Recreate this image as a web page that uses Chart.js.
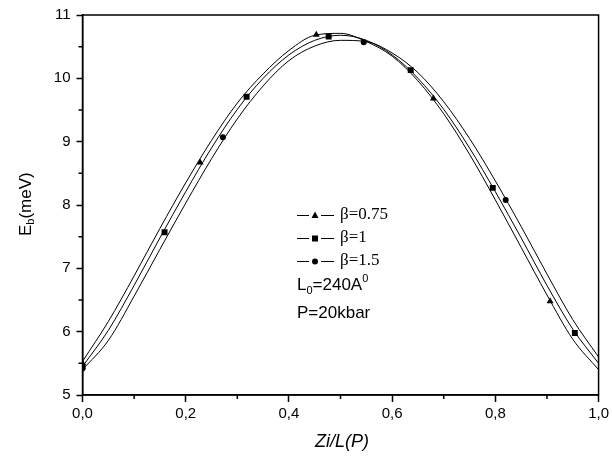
<!DOCTYPE html>
<html lang="es">
<head>
<meta charset="UTF-8">
<title>Eb vs Zi/L(P)</title>
<script src="https://cdn.jsdelivr.net/npm/chart.js"></script>
<style>
    body { margin: 0; background: #ffffff; }
    canvas { display: block; }
</style>
</head>
<body>
<canvas id="grafico" width="612" height="458"></canvas>
<script>
// posiciones Zi/L de las curvas
const zi = [0, 0.05, 0.10, 0.15, 0.20, 0.25, 0.30, 0.35, 0.40, 0.45, 0.50,
            0.55, 0.60, 0.65, 0.70, 0.75, 0.80, 0.85, 0.90, 0.95, 1.00];
// curvas Eb (meV)
const eb075 = [5.53, 6.16, 6.88, 7.63, 8.35, 9.02, 9.61, 10.07, 10.44, 10.68, 10.71,
               10.58, 10.35, 9.96, 9.44, 8.80, 8.08, 7.33, 6.58, 5.88, 5.40];
const eb1   = [5.45, 6.02, 6.73, 7.48, 8.21, 8.90, 9.51, 10.00, 10.37, 10.60, 10.68,
               10.60, 10.37, 10.00, 9.51, 8.90, 8.21, 7.48, 6.73, 6.04, 5.50];
const eb15  = [5.40, 5.86, 6.56, 7.30, 8.03, 8.73, 9.36, 9.88, 10.28, 10.51, 10.60,
               10.58, 10.40, 10.09, 9.63, 9.05, 8.38, 7.66, 6.91, 6.19, 5.60];

// puntos (marcadores)
const triX = [0, 0.228, 0.453, 0.680, 0.906];
const triY = [5.50, 8.67, 10.69, 9.68, 6.48];
const sqX  = [0, 0.159, 0.318, 0.477, 0.636, 0.795, 0.954];
const sqY  = [5.45, 7.57, 9.71, 10.66, 10.13, 8.27, 5.98];
const cirX = [0, 0.272, 0.545, 0.820];
const cirY = [5.42, 9.07, 10.57, 8.08];

const nombres = ['β=0.75', 'β=1', 'β=1.5'];
const xTicks = ['0,0', '0,2', '0,4', '0,6', '0,8', '1,0'];
const yTicks = ['5', '6', '7', '8', '9', '10', '11'];
const xMinor = [0.1, 0.3, 0.5, 0.7, 0.9];
const yMinor = [5.5, 6.5, 7.5, 8.5, 9.5, 10.5];

const pares = (xs, ys) => xs.map((x, i) => ({ x: x, y: ys[i] }));

function curva(ys) {
    return {
        data: pares(zi, ys),
        borderColor: '#000',
        borderWidth: 1,
        pointRadius: 0,
        cubicInterpolationMode: 'monotone',
        fill: false
    };
}

function puntos(xs, ys, estilo, r) {
    return {
        data: pares(xs, ys),
        showLine: false,
        pointStyle: estilo,
        pointRadius: r,
        backgroundColor: '#000',
        borderColor: '#000',
        borderWidth: 0
    };
}

function marca(ctx, estilo, x, y) {
    ctx.beginPath();
    if (estilo === 'triangle') {
        ctx.moveTo(x, y - 4);
        ctx.lineTo(x + 3.5, y + 2.5);
        ctx.lineTo(x - 3.5, y + 2.5);
        ctx.closePath();
    } else if (estilo === 'rect') {
        ctx.rect(x - 3, y - 3, 6, 6);
    } else {
        ctx.arc(x, y, 3, 0, Math.PI * 2);
    }
    ctx.fill();
}

const decorado = {
    id: 'decorado',
    afterDraw(chart) {
        const ctx = chart.ctx;
        const a = chart.chartArea;
        const sx = chart.scales.x, sy = chart.scales.y;
        ctx.save();
        ctx.strokeStyle = '#000';
        ctx.fillStyle = '#000';
        ctx.lineWidth = 1.5;
        ctx.strokeRect(a.left, a.top, a.right - a.left, a.bottom - a.top);

        // ticks menores
        ctx.lineWidth = 1.5;
        ctx.beginPath();
        xMinor.forEach(v => {
            const px = sx.getPixelForValue(v);
            ctx.moveTo(px, a.bottom);
            ctx.lineTo(px, a.bottom + 4);
        });
        yMinor.forEach(v => {
            const py = sy.getPixelForValue(v);
            ctx.moveTo(a.left - 4, py);
            ctx.lineTo(a.left, py);
        });
        ctx.stroke();

        // titulo eje x
        ctx.font = 'italic 18px "Liberation Sans", Arial, sans-serif';
        ctx.textAlign = 'center';
        ctx.textBaseline = 'middle';
        ctx.fillText('Zi/L(P)', 342, 442);

        // titulo eje y
        ctx.save();
        ctx.translate(26, 204);
        ctx.rotate(-Math.PI / 2);
        ctx.textAlign = 'left';
        ctx.textBaseline = 'middle';
        ctx.font = '17px "Liberation Sans", Arial, sans-serif';
        const wE = ctx.measureText('E').width;
        const x0 = -32;
        ctx.fillText('E', x0, 0);
        ctx.font = '11px "Liberation Sans", Arial, sans-serif';
        ctx.fillText('b', x0 + wE, 5);
        const wb = ctx.measureText('b').width;
        ctx.font = '17px "Liberation Sans", Arial, sans-serif';
        ctx.fillText('(meV)', x0 + wE + wb, 0);
        ctx.restore();

        // leyenda
        const estilos = ['triangle', 'rect', 'circle'];
        const filas = [215, 238, 261];
        ctx.lineWidth = 1;
        ctx.textAlign = 'left';
        ctx.textBaseline = 'middle';
        ctx.font = '17px "Liberation Serif", "Times New Roman", serif';
        filas.forEach((fy, i) => {
            ctx.beginPath();
            ctx.moveTo(297, fy + 0.5);
            ctx.lineTo(309, fy + 0.5);
            ctx.moveTo(321, fy + 0.5);
            ctx.lineTo(334, fy + 0.5);
            ctx.stroke();
            marca(ctx, estilos[i], 315, fy + 0.5);
            ctx.fillText(nombres[i], 340, fy);
        });

        // parametros
        ctx.font = '17px "Liberation Sans", Arial, sans-serif';
        let x = 297;
        ctx.fillText('L', x, 285);
        x += ctx.measureText('L').width;
        ctx.font = '11px "Liberation Sans", Arial, sans-serif';
        ctx.fillText('0', x, 291);
        x += ctx.measureText('0').width;
        ctx.font = '17px "Liberation Sans", Arial, sans-serif';
        ctx.fillText('=240A', x, 285);
        x += ctx.measureText('=240A').width;
        ctx.font = '11px "Liberation Sans", Arial, sans-serif';
        ctx.fillText('0', x, 279);
        ctx.font = '17px "Liberation Sans", Arial, sans-serif';
        ctx.fillText('P=20kbar', 297, 313);
        ctx.restore();
    }
};

const ctx = document.getElementById('grafico').getContext('2d');
const myChart = new Chart(ctx, {
    type: 'line',
    data: {
        datasets: [
            curva(eb075), curva(eb1), curva(eb15),
            puntos(triX, triY, 'triangle', 4),
            puntos(sqX, sqY, 'rect', 4.2),
            puntos(cirX, cirY, 'circle', 3)
        ]
    },
    options: {
        responsive: false,
        animation: false,
        layout: { padding: { top: 14, right: 10, left: 0, bottom: 0 } },
        plugins: { legend: { display: false }, tooltip: { enabled: false } },
        scales: {
            x: {
                type: 'linear',
                min: 0, max: 1,
                afterFit: s => { s.height = 63; },
                grid: { drawOnChartArea: false, tickLength: 7, tickColor: '#000', tickWidth: 1.5 },
                border: { color: '#000', width: 1.5 },
                ticks: {
                    stepSize: 0.2,
                    maxRotation: 0,
                    padding: 3,
                    color: '#000',
                    font: { family: '"Liberation Sans", Arial, sans-serif', size: 15 },
                    callback: (v, i) => xTicks[i]
                }
            },
            y: {
                min: 5, max: 11,
                afterFit: s => { s.width = 82.5; },
                grid: { drawOnChartArea: false, tickLength: 6, tickColor: '#000', tickWidth: 1.5 },
                border: { color: '#000', width: 1.5 },
                ticks: {
                    stepSize: 1,
                    padding: 6,
                    color: '#000',
                    font: { family: '"Liberation Sans", Arial, sans-serif', size: 15 },
                    callback: (v, i) => yTicks[i]
                }
            }
        }
    },
    plugins: [decorado]
});
</script>
</body>
</html>
